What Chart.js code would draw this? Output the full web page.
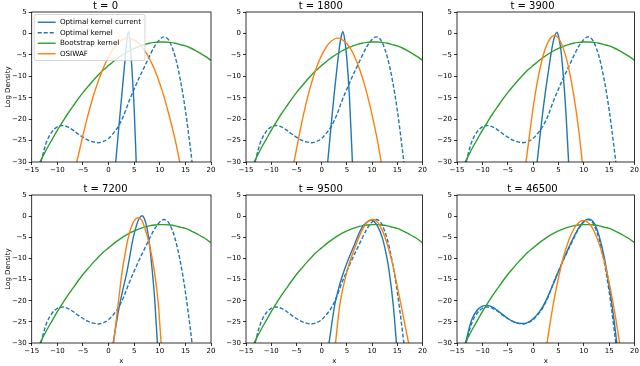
<!DOCTYPE html>
<html lang="en">
<head>
<meta charset="UTF-8">
<title>Log density of kernels over time</title>
<script src="https://cdn.jsdelivr.net/npm/chart.js"></script>
<style>
  body { margin: 0; background: #fff; }
  #figure { position: relative; width: 640px; height: 366px; overflow: hidden; background: #fff; }
  #figure canvas { position: absolute; }
</style>
</head>
<body>
<div id="figure">
  <canvas id="p0"></canvas>
  <canvas id="p1"></canvas>
  <canvas id="p2"></canvas>
  <canvas id="p3"></canvas>
  <canvas id="p4"></canvas>
  <canvas id="p5"></canvas>
</div>
<script>
// --- data: [x, log density] ---
const panelTitles = ['t = 0', 't = 1800', 't = 3900', 't = 7200', 't = 9500', 't = 46500'];
const seriesLabels = ['Optimal kernel current', 'Optimal kernel', 'Bootstrap kernel', 'OSIWAF'];
const xTicks = [-15, -10, -5, 0, 5, 10, 15, 20];
const yTicks = [-30, -25, -20, -15, -10, -5, 0, 5];

// same in every panel
const bootstrapKernel = [[-13.4,-30],[-13,-29.1],[-12,-26.8],[-11,-24.7],[-10,-22.6],[-9,-20.7],[-8,-18.8],[-7,-17.1],
  [-6,-15.4],[-5,-13.8],[-4,-12.4],[-3,-11.0],[-2,-9.7],[-1,-8.5],[0,-7.5],[1,-6.5],[2,-5.6],[3,-4.8],[4,-4.1],[5,-3.5],
  [6,-3.0],[7,-2.6],[8,-2.3],[9,-2.1],[10,-2.0],[11,-2.0],[12,-2.1],[13,-2.3],[14,-2.6],[15,-2.9],[16,-3.4],[17,-4.0],
  [18,-4.7],[19,-5.4],[20,-6.3]];
const optimalKernel = [[-13.2,-30],[-12.5,-26.8],[-12,-25.0],[-11,-22.9],[-10,-21.8],[-9,-21.5],[-8,-21.8],[-7,-22.5],
  [-6,-23.4],[-5,-24.2],[-4,-24.9],[-3,-25.3],[-2,-25.5],[-1,-25.2],[0,-24.5],[1,-23.2],[2,-21.5],[3,-19.0],[4,-15.8],
  [5,-13.0],[6,-10.3],[7,-7.8],[8,-5.3],[9,-3.0],[10,-1.4],[10.8,-0.8],[11.5,-1.2],[12,-2.1],[13,-5.4],[14,-10.7],
  [15,-17.9],[16,-27.0],[16.3,-30]];

// optimal kernel current, per panel
const current0 = [[1.4,-30],[2,-22],[2.5,-15.5],[3,-9],[3.4,-3.8],[3.85,0.4],[4.2,-2],[4.6,-9],[5,-17.5],[5.4,-30]];
const current1800 = [[1.2,-30],[2,-20],[2.5,-14],[3,-8.5],[3.5,-3.5],[3.9,-0.6],[4.2,0.4],[4.6,-1.6],[5,-6],[5.5,-14.5],[6.1,-30]];
const current3900 = [[0.8,-30],[1.5,-22.5],[2,-17.5],[2.5,-13],[3,-9],[3.5,-5],[4,-1.8],[4.4,-0.2],[4.7,0.3],[5,-0.6],
  [5.5,-4],[6,-10.5],[6.5,-19],[7,-30]];
const current7200 = [[0.9,-30],[2,-22],[3,-16.3],[3.6,-13.1],[4,-10.5],[4.8,-5.2],[5.5,-2],[6,-0.5],[6.57,0.1],[7,-0.6],
  [7.5,-2.8],[8,-6.8],[8.5,-12.5],[9,-19.5],[9.53,-30]];
const current9500 = [[1.46,-30],[2.6,-21],[3.5,-16.5],[4.4,-13.1],[5.3,-10.2],[6.2,-7.6],[7.9,-2.9],[9,-1.4],[9.87,-0.9],
  [11,-2.2],[12.05,-5.2],[12.8,-9],[13.4,-13.1],[14.2,-21],[14.83,-30]];
const current46500 = [[-13.3,-30],[-12.5,-26],[-12,-24.2],[-11,-22.2],[-10,-21.3],[-9,-21.1],[-8,-21.5],[-7,-22.3],
  [-6,-23.3],[-5,-24.2],[-4,-24.9],[-3,-25.3],[-2,-25.4],[-1,-25.1],[0,-24.3],[1,-23],[2,-21.2],[3,-18.8],[4,-16],
  [5,-13.1],[6,-10.2],[7,-7.5],[8,-5],[9,-2.8],[10,-1.2],[11,-0.7],[12,-1.6],[13,-4.6],[14,-9.6],[15,-16.5],[16,-25],[16.5,-30]];

// OSIWAF, per panel
const osiwaf0 = [[-6.2,-30],[-5,-23.8],[-4,-19.0],[-3,-14.7],[-2,-11.1],[-1,-8.0],[0,-5.5],[1,-3.5],[2,-2.1],[3,-1.3],
  [3.9,-1.1],[5,-1.5],[6,-2.4],[7,-3.9],[8,-5.9],[9,-8.5],[10,-11.7],[11,-15.5],[12,-19.9],[13,-24.8],[13.9,-30]];
const osiwaf1800 = [[-5.5,-30],[-5,-27.1],[-4,-21.1],[-3,-15.9],[-2,-11.5],[-1,-7.9],[0,-5.1],[1,-3.0],[2,-1.7],[3.2,-1.1],
  [4,-1.4],[5,-2.4],[6,-4.1],[7,-6.7],[8,-10.0],[9,-14.1],[10,-19.0],[11,-24.6],[11.8,-30]];
const osiwaf3900 = [[-1.4,-30],[-1,-26.4],[0,-17.4],[1,-10.3],[2,-5.1],[3,-1.9],[4.2,-0.5],[5,-1.1],[6,-3.6],[7,-8.0],
  [8,-14.3],[9,-22.6],[9.7,-30]];
const osiwaf7200 = [[1.0,-30],[2,-19.5],[2.63,-13.3],[3,-10.5],[3.8,-5.3],[4.5,-2.4],[5,-1.1],[5.78,-0.35],[6.5,-1.0],
  [7,-2.5],[8,-6.8],[9,-13.5],[9.7,-20.5],[10.26,-30]];
const osiwaf9500 = [[2.75,-30],[3.6,-21],[4.9,-13.6],[6.6,-7.4],[8.2,-2.9],[9,-1.5],[10.2,-0.8],[11,-1.3],[12,-3.3],
  [13,-6.6],[14,-11],[15,-16.6],[16,-22.5],[17,-28.6],[17.25,-30]];
const osiwaf46500 = [[2.75,-30],[3,-28.0],[4,-20.7],[5,-14.6],[6,-9.6],[7,-5.8],[8,-3.1],[9,-1.5],[9.9,-1.0],[11,-1.7],
  [12,-3.5],[13,-6.5],[14,-10.5],[15,-15.8],[16,-22.1],[17,-29.6],[17.05,-30]];

const currentKernels = [current0, current1800, current3900, current7200, current9500, current46500];
const osiwafKernels = [osiwaf0, osiwaf1800, osiwaf3900, osiwaf7200, osiwaf9500, osiwaf46500];

// --- layout of the 2x3 grid (canvas box, axis sizes) ---
const panelBoxes = [
  { left: 0,   top: 0,   w: 217, h: 176, yw: 31.7, xh: 14, pr: 6 },
  { left: 219, top: 0,   w: 210, h: 176, yw: 27,   xh: 14, pr: 6.5 },
  { left: 430, top: 0,   w: 210, h: 176, yw: 27,   xh: 14, pr: 5 },
  { left: 0,   top: 183, w: 217, h: 182, yw: 31.7, xh: 22, pr: 6 },
  { left: 219, top: 183, w: 210, h: 182, yw: 27,   xh: 22, pr: 6.5 },
  { left: 430, top: 183, w: 210, h: 182, yw: 27,   xh: 22, pr: 5 }
];

const BLUE = '#1f77b4', ORANGE = '#ff7f0e', GREEN = '#2ca02c';
const FONT = "'DejaVu Sans', sans-serif";
const LINE_W = 1.4;
Chart.defaults.font.family = FONT;
Chart.defaults.color = '#000';

const toXY = pts => pts.map(([x, y]) => ({ x, y }));
const fmt = v => (v < 0 ? '\u2212' + Math.abs(v) : String(v));

// full box around each axes, like matplotlib spines
const axesFrame = {
  id: 'axesFrame',
  afterDatasetsDraw(chart) {
    const { ctx, chartArea: a } = chart;
    ctx.save();
    ctx.strokeStyle = '#000';
    ctx.lineWidth = 0.8;
    ctx.strokeRect(a.left, a.top, a.right - a.left, a.bottom - a.top);
    ctx.restore();
  }
};

// framed legend drawn inside the first axes
const frameLegend = {
  id: 'frameLegend',
  afterDraw(chart, args, opts) {
    if (!opts.display) return;
    const { ctx, chartArea: a } = chart;
    const sets = chart.data.datasets;
    const fs = 7.2, row = 10.5;
    const x0 = a.left + 2.5, y0 = a.top + 2.5;
    ctx.save();
    ctx.font = fs + 'px ' + FONT;
    let tw = 0;
    sets.forEach(d => { tw = Math.max(tw, ctx.measureText(d.label).width); });
    const w = 3.5 + 18 + 4.2 + tw + 4, h = sets.length * row + 4;
    ctx.beginPath();
    if (ctx.roundRect) ctx.roundRect(x0, y0, w, h, 2); else ctx.rect(x0, y0, w, h);
    ctx.fillStyle = 'rgba(255,255,255,0.8)';
    ctx.fill();
    ctx.strokeStyle = '#cccccc';
    ctx.lineWidth = 0.8;
    ctx.stroke();
    sets.forEach((d, k) => {
      const cy = y0 + 2.5 + row * k + row / 2;
      ctx.beginPath();
      ctx.setLineDash(d.borderDash || []);
      ctx.strokeStyle = d.borderColor;
      ctx.lineWidth = LINE_W;
      ctx.moveTo(x0 + 3.5, cy);
      ctx.lineTo(x0 + 21.5, cy);
      ctx.stroke();
      ctx.setLineDash([]);
      ctx.fillStyle = '#000';
      ctx.textBaseline = 'middle';
      ctx.fillText(d.label, x0 + 25.7, cy);
    });
    ctx.restore();
  }
};

function axisTicks(values, pad) {
  return {
    font: { family: FONT, size: 7 },
    color: '#000',
    padding: pad,
    maxRotation: 0,
    autoSkip: false,
    stepSize: values[1] - values[0],
    callback: v => fmt(v)
  };
}

const tickGrid = { display: true, drawOnChartArea: false, drawTicks: true, tickLength: 3, color: '#000', lineWidth: 0.8 };

panelBoxes.forEach((p, i) => {
  const canvas = document.getElementById('p' + i);
  canvas.width = p.w;
  canvas.height = p.h;
  canvas.style.left = p.left + 'px';
  canvas.style.top = p.top + 'px';
  const firstCol = i % 3 === 0;
  const bottomRow = i >= 3;

  new Chart(canvas, {
    type: 'line',
    data: {
      datasets: [
        { label: seriesLabels[0], data: toXY(currentKernels[i]), borderColor: BLUE, order: 4 },
        { label: seriesLabels[1], data: toXY(optimalKernel), borderColor: BLUE, borderDash: [4, 2], order: 3 },
        { label: seriesLabels[2], data: toXY(bootstrapKernel), borderColor: GREEN, order: 2 },
        { label: seriesLabels[3], data: toXY(osiwafKernels[i]), borderColor: ORANGE, order: 1 }
      ]
    },
    options: {
      responsive: false,
      animation: false,
      devicePixelRatio: 1,
      layout: { padding: { top: 0, left: 0, bottom: 0, right: p.pr } },
      elements: {
        point: { radius: 0 },
        line: { borderWidth: LINE_W, cubicInterpolationMode: 'monotone', fill: false }
      },
      plugins: {
        legend: { display: false },
        tooltip: { enabled: false },
        title: {
          display: true,
          text: panelTitles[i],
          color: '#000',
          font: { family: FONT, size: 10, weight: 'normal', lineHeight: 1.2 },
          padding: { top: 0, bottom: 0 }
        },
        frameLegend: { display: i === 0 }
      },
      scales: {
        x: {
          type: 'linear',
          min: xTicks[0],
          max: xTicks[xTicks.length - 1],
          ticks: axisTicks(xTicks, 1),
          grid: tickGrid,
          border: { display: false },
          title: { display: bottomRow, text: 'x', color: '#000', font: { family: FONT, size: 7 }, padding: { top: 0, bottom: 0 } },
          afterFit: s => { s.height = p.xh; }
        },
        y: {
          type: 'linear',
          min: yTicks[0],
          max: yTicks[yTicks.length - 1],
          ticks: axisTicks(yTicks, 2),
          grid: tickGrid,
          border: { display: false },
          title: { display: firstCol, text: 'Log Density', color: '#000', font: { family: FONT, size: 7 }, padding: { top: 4, bottom: 0 } },
          afterFit: s => { s.width = p.yw; }
        }
      }
    },
    plugins: [axesFrame, frameLegend]
  });
});
</script>
</body>
</html>
